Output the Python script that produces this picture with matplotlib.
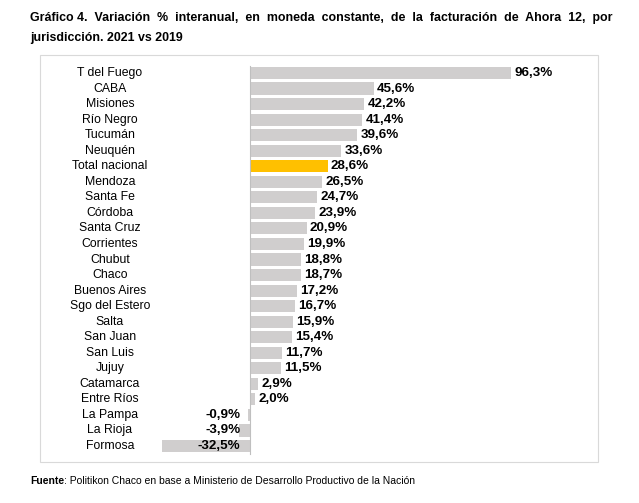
import matplotlib.pyplot as plt
from matplotlib.patches import Rectangle

provinces = ['T del Fuego', 'CABA', 'Misiones', 'Río Negro', 'Tucumán', 'Neuquén',
             'Total nacional', 'Mendoza', 'Santa Fe', 'Córdoba', 'Santa Cruz',
             'Corrientes', 'Chubut', 'Chaco', 'Buenos Aires', 'Sgo del Estero',
             'Salta', 'San Juan', 'San Luis', 'Jujuy', 'Catamarca', 'Entre Ríos',
             'La Pampa', 'La Rioja', 'Formosa']
values = [96.3, 45.6, 42.2, 41.4, 39.6, 33.6, 28.6, 26.5, 24.7, 23.9, 20.9,
          19.9, 18.8, 18.7, 17.2, 16.7, 15.9, 15.4, 11.7, 11.5, 2.9, 2.0,
          -0.9, -3.9, -32.5]

W, H = 639, 503
fig = plt.figure(figsize=(W / 100, H / 100), dpi=100)
fig.patch.set_facecolor('white')

# outer frame
fig.patches.append(Rectangle((40 / W, 1 - 462 / H), 558 / W, 407 / H,
                             transform=fig.transFigure, fill=False,
                             edgecolor='#d9d9d9', linewidth=0.8))

# axes placed in pixel terms: zero at x=250, 2.71 px per %
x0, x1 = 45, 590
ax = fig.add_axes([x0 / W, 1 - 458 / H, (x1 - x0) / W, (458 - 62) / H])
scale = 2.71
ax.set_xlim((x0 - 250) / scale, (x1 - 250) / scale)
n = len(values)
ax.set_ylim(n - 0.5 + (458 - 446) / 15.55 - 0.5, -0.5 - (73 - 62) / 15.55 + 0.5)
ax.axis('off')

colors = ['#ffc000' if p == 'Total nacional' else '#d0cece' for p in provinces]
ax.barh(range(n), values, height=0.78, color=colors)
ax.axvline(0, color='#bfbfbf', linewidth=0.8, ymin=0.01, ymax=0.99)

lab_x = (110 - 250) / scale
for i, (p, v) in enumerate(zip(provinces, values)):
    ax.text(lab_x, i, p, ha='center', va='center', fontsize=8.8,
            family='Liberation Sans')
    txt = f'{v:.1f}%'.replace('.', ',')
    if v >= 0:
        ax.text(v + 1.2, i, txt, ha='left', va='center', fontsize=9.6,
                fontweight='bold', family='Liberation Sans')
    else:
        ax.text(-3.5, i, txt, ha='right', va='center', fontsize=9.6,
                fontweight='bold', family='Liberation Sans')

fig.text(30 / W, 1 - 18 / H,
         'Gráfico 4.  Variación  %  interanual,  en  moneda  constante,  de  la  facturación  de  Ahora  12,  por',
         fontsize=8.9, fontweight='bold', va='center', family='Liberation Sans')
fig.text(30 / W, 1 - 38 / H, 'jurisdicción. 2021 vs 2019',
         fontsize=8.9, fontweight='bold', va='center', family='Liberation Sans')
fig.text(30 / W, 1 - 481 / H, 'Fuente',
         fontsize=7.5, fontweight='bold', va='center', family='Liberation Sans')
fig.text(64 / W, 1 - 481 / H, ': Politikon Chaco en base a Ministerio de Desarrollo Productivo de la Nación',
         fontsize=7.5, va='center', family='Liberation Sans')

fig.savefig('out.png', dpi=100, facecolor='white')
